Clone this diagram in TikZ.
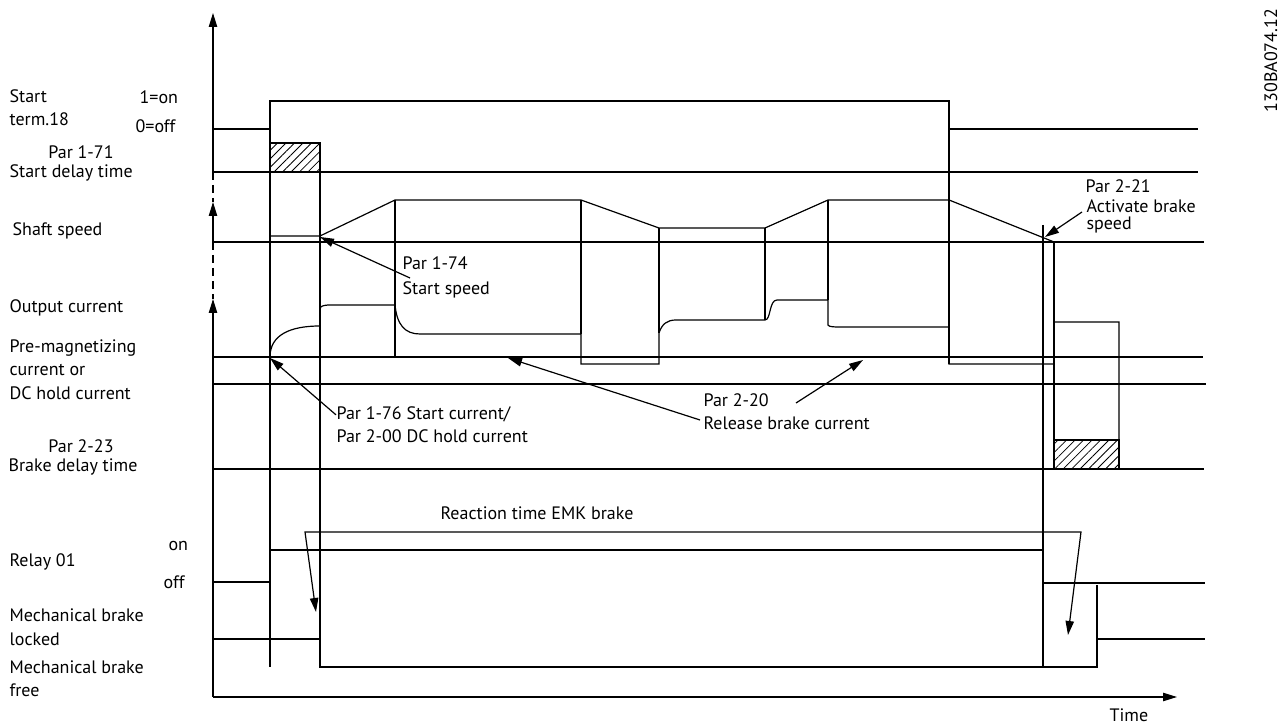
\documentclass[tikz,border=0pt]{standalone}
\usepackage{fontspec}
\setmainfont{PT Sans}
\usepackage{tikz}
\usetikzlibrary{arrows.meta, positioning, patterns.meta}

\begin{document}
\begin{tikzpicture}[x=0.5pt, y=-0.5pt, >={Triangle[length=7pt, width=4.2pt]}, line width=0.6pt,
    every node/.style={inner sep=0pt, font=\fontsize{9}{10}\selectfont},
    lbl/.style={anchor=base west},
    hatchbox/.style={draw, pattern={Lines[angle=45, distance=3pt, line width=0.4pt]}},
    axisdash/.style={dash pattern=on 4pt off 2.5pt}]
    \useasboundingbox (0,0) rectangle (1280,726);
    % axes
    \draw[->] (213,172) -- (213,13);
    \draw[axisdash] (213,172) -- (213,202);
    \draw[->] (213,242) -- (213,202);
    \draw[axisdash] (213,242) -- (213,299);
    \draw[->] (213,697) -- (213,299);
    \draw[->] (213,697) -- (1177,697);
    % start signal and delay
    \draw (213,129) -- (270,129) -- (270,101) -- (949,101) -- (949,129) -- (1198,129);
    \draw (213,172) -- (1198,172);
    \draw[hatchbox] (270,143) rectangle (320,172);
    \draw (270,101) -- (270,667);
    \draw (320,143) -- (320,667);
    \draw (949,129) -- (949,364);
    % shaft speed
    \draw (213,242) -- (1204,242);
    \draw (270,236) -- (320,236) -- (395,200) -- (581,200) -- (659,228) -- (765,228) -- (828,200) -- (949,200) -- (1054,242);
    \draw (395,200) -- (395,357);
    \draw (581,200) -- (581,334);
    \draw (659,228) -- (659,333);
    \draw (765,228) -- (765,320);
    \draw (828,200) -- (828,300);
    % output current
    \draw (213,357) -- (1203,357);
    \draw (213,384) -- (1206,384);
    \draw (270,357) .. controls (270,335) and (290,326) .. (320,326) -- (320,313) .. controls (320,306) .. (328,305) -- (395,305)
        .. controls (397,325) and (405,334) .. (420,334) -- (581,334) -- (581,364) -- (659,364) -- (659,333)
        .. controls (662,324) and (667,320) .. (676,320) -- (765,320) .. controls (771,320) and (769,300) .. (777,300) -- (828,300)
        -- (828,325) .. controls (829,327) and (833,327) .. (845,327) -- (949,327) -- (949,364) -- (1054,364)
        -- (1054,322) -- (1119,322) -- (1119,469);
    \draw (1054,242) -- (1054,469);
    \draw (213,469) -- (1204,469);
    \draw[hatchbox] (1054,440) rectangle (1119,469);
    \draw (1043,225) -- (1043,667);
    % relay and brake
    \draw (213,582) -- (270,582) -- (270,550) -- (1043,550) -- (1043,583) -- (1205,583);
    \draw (213,639) -- (320,639) -- (320,667) -- (1097,667) -- (1097,639) -- (1205,639);
    \draw (1097,639) -- (1097,585);
    \draw[<->] (316,612) -- (305,532) -- (1081,532) -- (1068,635);
    % left labels
    \node[lbl] (start) at (9,103) {Start};
    \node[lbl] (term) at (9,126) {term.18};
    \node[lbl] (on1) at (139,104) {1=on};
    \node[lbl] (off0) at (135,133) {0=off};
    \node[anchor=base] (p171) at (81,159) {Par 1-71};
    \node[lbl] (sdt) at (9,178) {Start delay time};
    \node[lbl] (shaft) at (12,236) {Shaft speed};
    \node[lbl] (outc) at (9,313) {Output current};
    \node[lbl] (premag) at (9,353) {Pre-magnetizing};
    \node[lbl] (curor) at (9,376) {current or};
    \node[lbl] (dchold) at (9,400) {DC hold current};
    \node[anchor=base] (p223) at (81,453) {Par 2-23};
    \node[lbl] (bdt) at (8,472) {Brake delay time};
    \node[lbl] (onlbl) at (168,551) {on};
    \node[lbl] (relay) at (9,567) {Relay 01};
    \node[lbl] (offlbl) at (163,589) {off};
    \node[lbl] (mb1) at (9,622) {Mechanical brake};
    \node[lbl] (locked) at (9,646) {locked};
    \node[lbl] (mb2) at (9,674) {Mechanical brake};
    \node[lbl] (free) at (9,697) {free};
    % annotations
    \node[lbl] (p174) at (402,270) {Par 1-74};
    \node[lbl] (sspeed) at (402,295) {Start speed};
    \node[lbl] (p176) at (336,420) {Par 1-76 Start current/};
    \node[lbl] (p200) at (336,443) {Par 2-00 DC hold current};
    \node[lbl] (p220) at (703,407) {Par 2-20};
    \node[lbl] (rbc) at (703,430) {Release brake current};
    \node[lbl] (p221) at (1085,193) {Par 2-21};
    \node[lbl] (abs) at (1086,213) {Activate brake};
    \node[lbl] (spd) at (1086,230) {speed};
    \node[anchor=base] (emk) at (537,520) {Reaction time EMK brake};
    \node[lbl] (time) at (1109,721) {Time};
    \node[rotate=90, anchor=base west] (docid) at (1277,113) {130BA074.12};
    \coordinate (t174) at (320,237);
    \coordinate (s174) at (410,278);
    \coordinate (t176) at (270,358);
    \coordinate (t220a) at (508,358);
    \coordinate (s220a) at (700,420);
    \coordinate (t220b) at (863,360);
    \coordinate (s220b) at (796,403);
    \coordinate (t221) at (1045,237);
    \coordinate (s221) at (1082,212);
    \draw[->] (s174) -- (t174);
    \draw[->] (p176.west) -- (t176);
    \draw[->] (s220a) -- (t220a);
    \draw[->] (s220b) -- (t220b);
    \draw[->] (s221) -- (t221);
\end{tikzpicture}
\end{document}
